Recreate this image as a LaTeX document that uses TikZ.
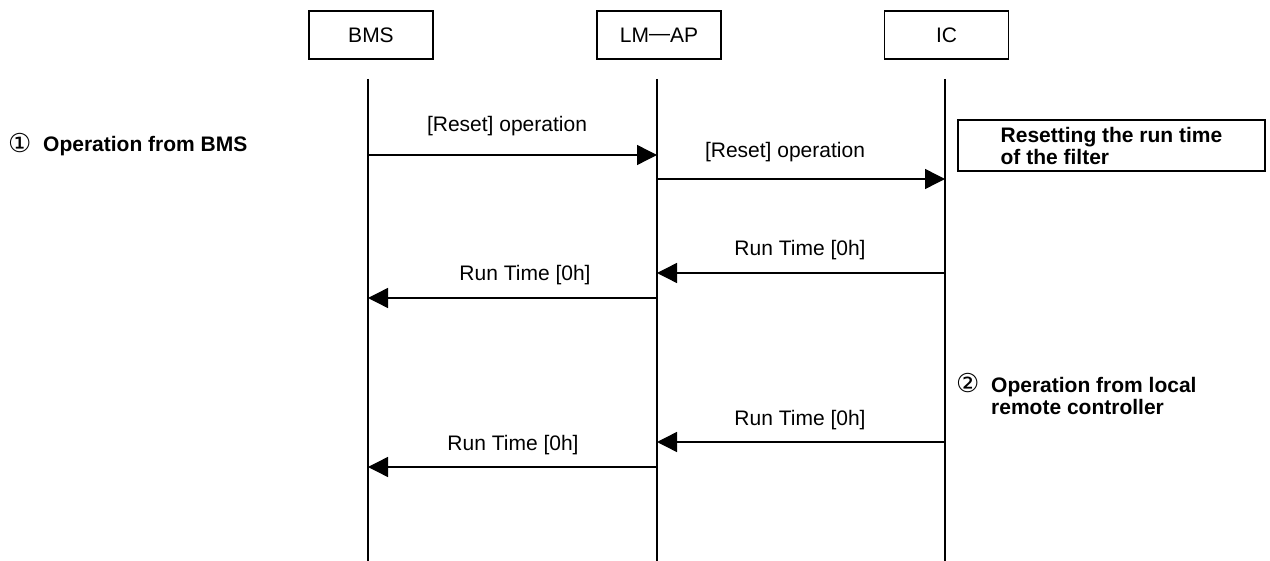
\documentclass[tikz,border=0pt]{standalone}
\usepackage{fontspec}
\setmainfont{Liberation Sans}
\newfontfamily\symfont{DejaVu Sans}
\usetikzlibrary{arrows.meta}
\begin{document}
\begin{tikzpicture}[x=1pt,y=-1pt,
  font=\fontsize{21}{22.5}\selectfont,
  lane/.style={draw, line width=1.4pt, minimum width=124pt, minimum height=48pt, inner sep=0pt},
  life/.style={line width=1.4pt},
  msg/.style={line width=1.4pt, -{Triangle[length=20pt,width=20pt]}},
  lbl/.style={anchor=base, inner sep=0pt},
  note/.style={font=\fontsize{21}{22.5}\selectfont\bfseries, inner sep=0pt, anchor=base west},
  circnum/.style={}]
\useasboundingbox (0,0) rectangle (1270,561);

% participant boxes
\node[lane] (bms) at (371,35) {BMS};
\node[lane] (lmap) at (659,35) {LM\raisebox{2.2pt}{—}AP};
\node[lane] (ic) at (946.5,35) {IC};

% lifelines
\coordinate (bT) at (368,79);  \coordinate (bB) at (368,561);
\coordinate (lT) at (657,79);  \coordinate (lB) at (657,561);
\coordinate (iT) at (945,79);  \coordinate (iB) at (945,561);
\draw[life] (bT) -- (bB);
\draw[life] (lT) -- (lB);
\draw[life] (iT) -- (iB);

% message end points
\coordinate (b1) at (368,155); \coordinate (l1) at (657,155);
\coordinate (l2) at (657,179); \coordinate (i2) at (945,179);
\coordinate (i3) at (945,273); \coordinate (l3) at (657,273);
\coordinate (l4) at (657,298); \coordinate (b4) at (368,298);
\coordinate (i5) at (945,442); \coordinate (l5) at (657,442);
\coordinate (l6) at (657,467); \coordinate (b6) at (368,467);

\draw[msg] (b1) -- (l1);
\draw[msg] (l2) -- (i2);
\draw[msg] (i3) -- (l3);
\draw[msg] (l4) -- (b4);
\draw[msg] (i5) -- (l5);
\draw[msg] (l6) -- (b6);

% message labels
\node[lbl] (t1) at (507,132) {[Reset] operation};
\node[lbl] (t2) at (785,158) {[Reset] operation};
\node[lbl] (t3) at (800,256) {Run Time [0h]};
\node[lbl] (t4) at (525,281) {Run Time [0h]};
\node[lbl] (t5) at (800,425) {Run Time [0h]};
\node[lbl] (t6) at (513,450) {Run Time [0h]};

% notes
\node[note] (op1) at (8,152) {\makebox[35pt][l]{\symfont\mdseries\fontsize{26}{26}\selectfont\raisebox{-1pt}{①}}Operation from BMS};
\node[note] (op2) at (956,392) {\begin{tabular}[t]{@{}l@{}l@{}}\makebox[35pt][l]{\symfont\mdseries\fontsize{26}{26}\selectfont\raisebox{-1pt}{②}} & Operation from local\\ & remote controller\end{tabular}};
\node[draw, line width=2pt, minimum width=307pt, minimum height=51pt, inner sep=2pt,
  align=left, font=\fontsize{21}{22}\selectfont\bfseries] (reset) at (1111.5,145.5)
  {Resetting the run time\\of the filter};
\end{tikzpicture}
\end{document}
